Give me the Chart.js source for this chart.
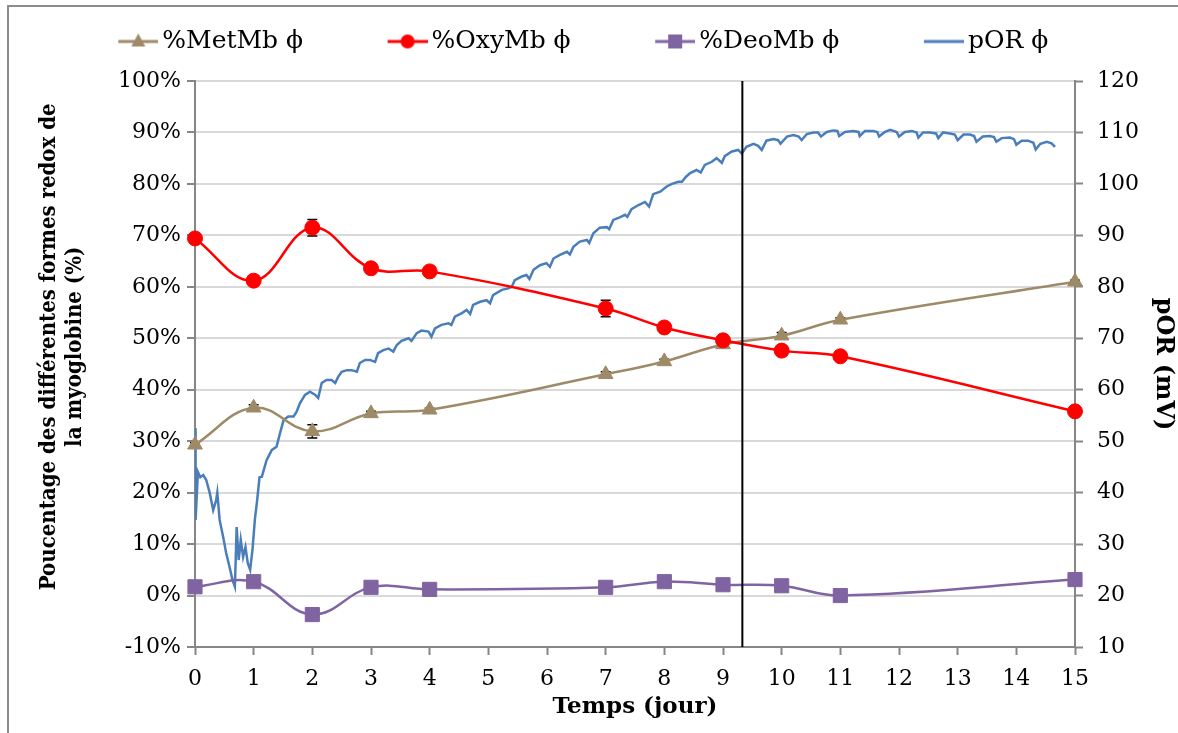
<!DOCTYPE html>
<html>
<head>
<meta charset="utf-8">
<script src="https://cdn.jsdelivr.net/npm/chart.js@4.4.1/dist/chart.umd.min.js"></script>
<style>
  html, body { margin: 0; padding: 0; background: #fff; }
  #wrap { position: relative; width: 1178px; height: 733px; overflow: hidden; }
  #frame { position: absolute; left: 7px; top: 5px; width: 1200px; height: 760px; border: 2px solid #8c8c8c; box-sizing: border-box; }
  canvas { position: absolute; left: 0; top: 0; }
</style>
</head>
<body>
<div id="wrap">
  <div id="frame"></div>
  <canvas id="chart" width="1178" height="733"></canvas>
</div>
<script>
// jours de mesure des formes redox
const days = [0, 1, 2, 3, 4, 7, 8, 9, 10, 11, 15];
const metMb = [29.3, 36.5, 31.9, 35.4, 36.1, 43.0, 45.5, 48.8, 50.5, 53.6, 61.0];
const oxyMb = [69.4, 61.2, 71.5, 63.6, 63.0, 55.8, 52.1, 49.6, 47.6, 46.5, 35.8];
const deoMb = [1.7, 2.7, -3.7, 1.6, 1.2, 1.6, 2.7, 2.1, 1.9, 0.0, 3.1];
// écarts-types (%)
const metErr = [0.4, 0.6, 1.3, 0.4, 0.3, 0.5, 0.4, 0.4, 0.6, 0.4, 0.3];
const oxyErr = [0.5, 0.5, 1.6, 0.5, 0.7, 1.6, 0.6, 0.7, 0.5, 0.5, 0.5];
const deoErr = [0.3, 0.3, 0.4, 0.3, 0.3, 0.3, 0.3, 0.3, 0.3, 0.3, 0.3];

// pOR (mV) relevé en continu
const porDays = [0.00, 0.01, 0.05, 0.09, 0.14, 0.19, 0.25, 0.31, 0.36, 0.38, 0.42, 0.48, 0.53, 0.59, 0.64, 0.68,
  0.71, 0.745, 0.78, 0.82, 0.86, 0.90, 0.94, 0.98, 1.02, 1.06, 1.10, 1.14, 1.22, 1.31, 1.39, 1.45, 1.51, 1.59,
  1.68, 1.73, 1.79, 1.875, 1.96, 2.05, 2.10, 2.16, 2.24, 2.33, 2.39, 2.44, 2.50, 2.59, 2.67, 2.76, 2.81, 2.90,
  2.98, 3.07, 3.12, 3.21, 3.30, 3.38, 3.44, 3.52, 3.64, 3.69, 3.78, 3.86, 3.98, 4.03, 4.09, 4.20, 4.32, 4.37,
  4.43, 4.55, 4.63, 4.69, 4.74, 4.86, 4.97, 5.03, 5.08, 5.23, 5.34, 5.40, 5.45, 5.57, 5.65, 5.70, 5.77, 5.88,
  5.99, 6.05, 6.11, 6.22, 6.34, 6.39, 6.45, 6.56, 6.68, 6.72, 6.79, 6.90, 7.02, 7.06, 7.13, 7.24, 7.33, 7.37,
  7.44, 7.56, 7.67, 7.74, 7.81, 7.93, 8.04, 8.13, 8.24, 8.30, 8.37, 8.44, 8.55, 8.62, 8.69, 8.81, 8.89, 8.98,
  9.03, 9.15, 9.26, 9.32, 9.40, 9.52, 9.60, 9.66, 9.74, 9.86, 9.94, 9.98, 10.09, 10.20, 10.29, 10.34, 10.43,
  10.54, 10.62, 10.67, 10.77, 10.88, 10.95, 10.98, 11.08, 11.22, 11.31, 11.33, 11.42, 11.56, 11.63, 11.66,
  11.76, 11.85, 11.96, 12.00, 12.10, 12.22, 12.30, 12.33, 12.41, 12.53, 12.63, 12.67, 12.75, 12.87, 12.95,
  13.00, 13.10, 13.21, 13.28, 13.32, 13.43, 13.55, 13.62, 13.66, 13.75, 13.89, 13.96, 14.00, 14.09, 14.20,
  14.29, 14.33, 14.41, 14.52, 14.60, 14.66];
const porMv = [52.5, 34.7, 44.0, 43.0, 43.4, 42.5, 40.0, 36.6, 38.5, 40.0, 34.7, 31.4, 28.3, 25.5, 23.0, 21.7,
  33.3, 26.9, 30.8, 27.5, 29.4, 26.3, 25.0, 28.9, 34.7, 38.6, 43.0, 43.1, 46.3, 48.3, 48.9, 51.6, 54.1, 54.8,
  54.8, 55.7, 57.4, 59.0, 59.6, 59.0, 58.4, 61.3, 61.9, 61.9, 61.3, 62.5, 63.5, 63.8, 63.8, 63.5, 65.2, 65.8,
  65.8, 65.4, 67.1, 67.7, 68.0, 67.4, 68.7, 69.5, 70.0, 69.5, 71.0, 71.5, 71.3, 70.3, 71.9, 72.6, 72.9, 72.6,
  74.2, 74.9, 75.5, 74.7, 76.5, 77.1, 77.4, 76.8, 78.4, 79.4, 79.7, 80.0, 81.3, 82.0, 82.3, 81.5, 83.3, 84.2,
  84.6, 83.9, 85.5, 86.2, 86.8, 86.3, 87.8, 88.8, 89.1, 88.5, 90.4, 91.5, 91.6, 91.2, 93.0, 93.5, 94.0, 93.6,
  95.1, 95.9, 96.5, 95.6, 98.0, 98.5, 99.5, 100.0, 100.4, 100.4, 101.4, 102.1, 102.7, 102.2, 103.7, 104.3, 105.0, 104.1,
  105.4, 106.3, 106.6, 105.9, 107.2, 107.8, 107.4, 106.6, 108.4, 108.7, 108.5, 107.8, 109.2, 109.5, 109.2, 108.5, 109.7,
  110.0, 110.0, 109.2, 110.1, 110.4, 110.3, 109.3, 110.1, 110.3, 110.1, 109.3, 110.3, 110.3, 110.1, 109.2,
  110.1, 110.5, 110.1, 109.2, 110.1, 110.3, 110.0, 109.0, 110.0, 110.0, 109.8, 108.9, 110.0, 109.8, 109.6,
  108.5, 109.6, 109.6, 109.3, 108.2, 109.2, 109.3, 109.1, 108.2, 108.9, 109.0, 108.7, 107.6, 108.4, 108.4,
  108.0, 106.7, 107.8, 108.2, 107.9, 107.2];

// repère vertical (jour)
const markerDay = 9.33;

const legendNames = ['%MetMb \u03D5', '%OxyMb \u03D5', '%DeoMb \u03D5', 'pOR \u03D5'];
const colMet = '#9f8a68';
const colOxy = '#ff0000';
const colDeo = '#8064a2';
const colPor = '#4a7ebb';

const FONT = "'DejaVu Serif', serif";
const FONT_COND = "'DejaVu Serif Condensed', 'DejaVu Serif', serif";

function xy(xs, ys) {
  return xs.map((x, i) => ({ x: x, y: ys[i] }));
}

// petites icônes de légende : trait + marqueur (partie gauche transparente)
function legendIcon(color, style) {
  const c = document.createElement('canvas');
  c.width = 57; c.height = 20;
  const g = c.getContext('2d');
  g.strokeStyle = color;
  g.fillStyle = color;
  g.lineWidth = 3;
  g.beginPath(); g.moveTo(17, 10); g.lineTo(57, 10); g.stroke();
  g.beginPath();
  if (style === 'triangle') {
    g.moveTo(37, 2); g.lineTo(44, 15); g.lineTo(30, 15); g.closePath(); g.fill();
  } else if (style === 'circle') {
    g.arc(37, 10, 7, 0, 2 * Math.PI); g.fill();
  } else if (style === 'rect') {
    g.rect(30, 3, 14, 14); g.fill();
  }
  return c;
}
const legendIcons = [
  legendIcon(colMet, 'triangle'),
  legendIcon(colOxy, 'circle'),
  legendIcon(colDeo, 'rect'),
  legendIcon(colPor, 'none')
];

// barres d'erreur
const errorBars = {
  id: 'errorBars',
  beforeDatasetsDraw(chart) {
    const ctx = chart.ctx;
    const xS = chart.scales.x;
    const yS = chart.scales.y;
    const sets = [[metMb, metErr], [oxyMb, oxyErr], [deoMb, deoErr]];
    ctx.save();
    ctx.strokeStyle = '#000';
    ctx.lineWidth = 1.5;
    sets.forEach(([vals, errs]) => {
      vals.forEach((v, i) => {
        const px = xS.getPixelForValue(days[i]);
        const top = yS.getPixelForValue(v + errs[i]);
        const bot = yS.getPixelForValue(v - errs[i]);
        ctx.beginPath();
        ctx.moveTo(px, top); ctx.lineTo(px, bot);
        ctx.moveTo(px - 5, top); ctx.lineTo(px + 5, top);
        ctx.moveTo(px - 5, bot); ctx.lineTo(px + 5, bot);
        ctx.stroke();
      });
    });
    ctx.restore();
  }
};

// légende : espacement horizontal large mais hauteur fixe
const legendBox = {
  id: 'legendBox',
  beforeInit(chart) {
    const lg = chart.legend;
    const fit = lg.fit;
    lg.fit = function () { fit.call(this); this.height = 81; };
    const draw = lg.draw;
    lg.draw = function () {
      const t = this.top, l = this.left, r = this.right;
      this.top = t - 47;
      this.left = l - 10;
      this.right = r - 10;
      draw.call(this);
      this.top = t; this.left = l; this.right = r;
    };
  }
};

const ctx = document.getElementById('chart').getContext('2d');

const chart = new Chart(ctx, {
  type: 'line',
  data: {
    datasets: [
      {
        label: legendNames[0],
        data: xy(days, metMb),
        yAxisID: 'y',
        borderColor: colMet, backgroundColor: colMet,
        borderWidth: 2.5, tension: 0.4, clip: false,
        pointStyle: 'triangle', pointRadius: 8.5, pointBorderWidth: 1,
        order: 3
      },
      {
        label: legendNames[1],
        data: xy(days, oxyMb),
        yAxisID: 'y',
        borderColor: colOxy, backgroundColor: colOxy,
        borderWidth: 2.5, tension: 0.4, clip: false,
        pointStyle: 'circle', pointRadius: 7.5, pointBorderWidth: 1,
        order: 2
      },
      {
        label: legendNames[2],
        data: xy(days, deoMb),
        yAxisID: 'y',
        borderColor: colDeo, backgroundColor: colDeo,
        borderWidth: 2.5, tension: 0.4, clip: false,
        pointStyle: 'rect', pointRadius: 10, pointBorderWidth: 1,
        order: 1
      },
      {
        label: legendNames[3],
        data: xy(porDays, porMv),
        yAxisID: 'y2',
        borderColor: colPor, backgroundColor: colPor,
        borderWidth: 2.5, tension: 0,
        pointRadius: 0,
        order: 5
      },
      {
        label: 'repere',
        data: [{ x: markerDay, y: -10 }, { x: markerDay, y: 100 }],
        yAxisID: 'y',
        borderColor: '#000', borderWidth: 2,
        pointRadius: 0,
        order: 0
      }
    ]
  },
  options: {
    responsive: false,
    animation: false,
    layout: { padding: 0 },
    plugins: {
      tooltip: { enabled: false },
      legend: {
        display: true,
        position: 'top',
        labels: {
          usePointStyle: true,
          pointStyleWidth: 40,
          padding: 76,
          color: '#000',
          font: { family: FONT, size: 25 },
          filter: (item) => item.datasetIndex < 4,
          sort: (a, b) => a.datasetIndex - b.datasetIndex,
          generateLabels: (chart) => {
            const items = Chart.defaults.plugins.legend.labels.generateLabels(chart);
            items.forEach((it) => {
              if (it.datasetIndex < 4) it.pointStyle = legendIcons[it.datasetIndex];
            });
            return items;
          }
        }
      }
    },
    scales: {
      x: {
        type: 'linear',
        min: 0, max: 15,
        ticks: { stepSize: 1, color: '#000', font: { family: FONT, size: 22 }, padding: 11 },
        grid: { drawOnChartArea: false, drawTicks: true, tickLength: 8, tickColor: '#868686', tickWidth: 2 },
        border: { color: '#868686', width: 2 },
        title: { display: true, text: 'Temps (jour)', color: '#000', font: { family: FONT, size: 23, weight: 'bold' }, padding: { top: 0, bottom: 12 } },
        afterFit: (s) => { s.height = 86; }
      },
      y: {
        position: 'left',
        min: -10, max: 100,
        ticks: { stepSize: 10, color: '#000', font: { family: FONT, size: 22 }, padding: 6, callback: (v) => v + '%' },
        grid: { color: '#d9d9d9', lineWidth: 2, borderDash: [11, 6], drawTicks: true, tickLength: 8,
          tickColor: '#868686', tickWidth: 2, tickBorderDash: [] },
        border: { color: '#868686', width: 2 },
        title: { display: true, text: ['     Poucentage des différentes formes redox de', '     la myoglobine (%)'],
          color: '#000', font: { family: FONT_COND, size: 22, weight: 'bold', lineHeight: 1.2 }, padding: { top: 36, bottom: 0 } },
        afterFit: (s) => { s.width = 195; }
      },
      y2: {
        position: 'right',
        min: 10, max: 120,
        ticks: { stepSize: 10, color: '#000', font: { family: FONT, size: 22 }, padding: 14 },
        grid: { drawOnChartArea: false, drawTicks: true, tickLength: 8, tickColor: '#868686', tickWidth: 2 },
        border: { color: '#868686', width: 2 },
        title: { display: true, text: 'pOR (mV)', color: '#000', font: { family: FONT, size: 24, weight: 'bold' }, padding: { top: 0, bottom: 4 } },
        afterFit: (s) => { s.width = 103; }
      }
    }
  },
  plugins: [errorBars, legendBox]
});
</script>
</body>
</html>
